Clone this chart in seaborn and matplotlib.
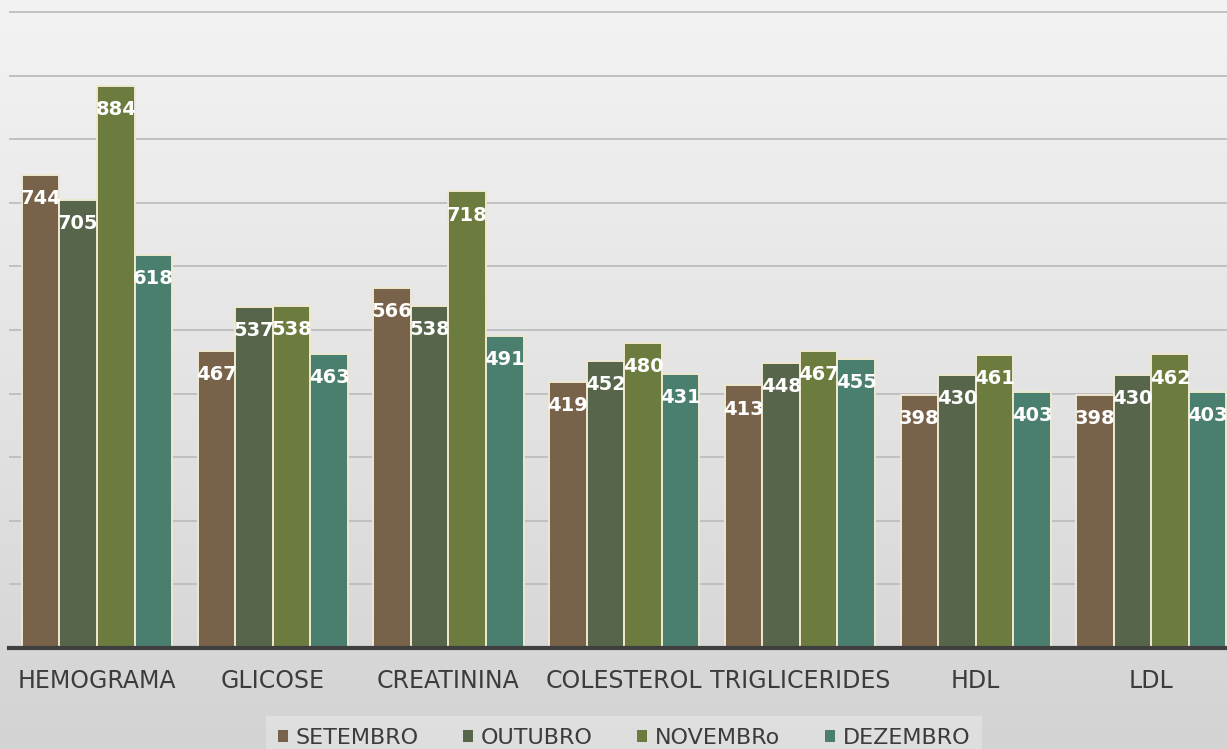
import numpy as np
import pandas as pd
import seaborn as sns
import matplotlib.pyplot as plt
from matplotlib.colors import LinearSegmentedColormap

# === data ===
exames = ["HEMOGRAMA", "GLICOSE", "CREATININA", "COLESTEROL",
          "TRIGLICERIDES", "HDL", "LDL"]
meses = ["SETEMBRO", "OUTUBRO", "NOVEMBRo", "DEZEMBRO"]
setembro = [744, 467, 566, 419, 413, 398, 398]
outubro = [705, 537, 538, 452, 448, 430, 430]
novembro = [884, 538, 718, 480, 467, 461, 462]
dezembro = [618, 463, 491, 431, 455, 403, 403]

cores = ["#78624a", "#57664b", "#6c7c3e", "#4a7e6f"]

df = pd.DataFrame({
    "exame": exames * 4,
    "mes": [m for m in meses for _ in exames],
    "total": setembro + outubro + novembro + dezembro,
})

sns.set_theme(style="white")
plt.rcParams['font.family'] = ['DejaVu Sans']

fig = plt.figure(figsize=(12.27, 7.49), dpi=100)

# gradient background
bg = fig.add_axes([0, 0, 1, 1], zorder=-2)
grad = np.linspace(0, 1, 256).reshape(-1, 1)
bg.imshow(grad, aspect="auto",
          cmap=LinearSegmentedColormap.from_list("bg", ["#f3f3f3", "#e4e4e4", "#d3d3d3"]),
          extent=[0, 1, 0, 1])
bg.axis("off")

ax = fig.add_axes([9.2 / 1227, 101 / 749, 1230 / 1227, 648 / 749])
ax.set_facecolor("none")

sns.barplot(data=df, x="exame", y="total", hue="mes", palette=cores,
            saturation=1, width=0.855, edgecolor="#eee8d0", linewidth=1.4,
            ax=ax, legend=True)

ax.set_ylim(0, 1019)
ax.set_yticks(range(0, 1001, 100))
ax.yaxis.grid(True, color="#bdbdbd", linewidth=1.3)
ax.set_axisbelow(True)
ax.tick_params(axis="y", left=False, labelleft=False)
ax.tick_params(axis="x", bottom=False, labelsize=17, labelcolor="#3c3c3c", pad=9)
ax.set_xlabel("")
ax.set_ylabel("")
for s in ["top", "right", "left"]:
    ax.spines[s].set_visible(False)
ax.spines["bottom"].set_color("#3f3f3f")
ax.spines["bottom"].set_linewidth(3)

# value labels inside bar tops
for cont in ax.containers:
    ax.bar_label(cont, padding=-24, color="white", fontsize=14,
                 fontweight="bold")

# legend
handles, labels = ax.get_legend_handles_labels()
ax.get_legend().remove()
leg = fig.legend(handles, labels, loc="lower center", ncol=4,
                 bbox_to_anchor=(0.5085, -0.024), fontsize=16,
                 frameon=True, fancybox=False, handlelength=0.45,
                 handleheight=0.45, handletextpad=0.35, columnspacing=2.0,
                 borderpad=0.55, borderaxespad=0.3, labelcolor="#3c3c3c")
leg.get_frame().set_facecolor("#e2e2e2")
leg.get_frame().set_edgecolor("none")
for h in leg.legend_handles:
    h.set_edgecolor("none")

fig.savefig("out.png", dpi=100)
plt.close(fig)
